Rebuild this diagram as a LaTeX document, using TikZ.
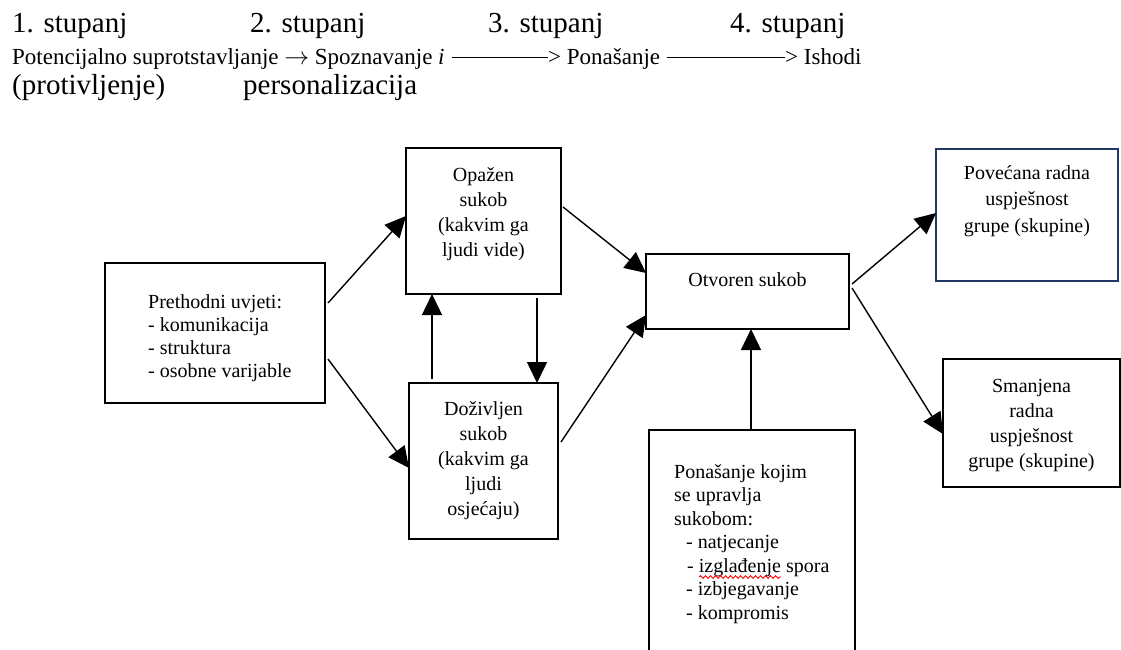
\documentclass[tikz,border=0pt]{standalone}
\usepackage{fontspec}
\setmainfont{Liberation Serif}
\usetikzlibrary{arrows.meta,decorations.pathmorphing}
\definecolor{navy}{RGB}{32,56,100}
\begin{document}
\begin{tikzpicture}[x=1pt,y=-1pt,
  box/.style={draw=black, line width=2.7pt, inner sep=0pt, outer sep=0pt},
  conn/.style={line width=1.4pt, -{Triangle[length=21pt,width=20pt]}},
  boxtxt/.style={inner sep=0pt, anchor=north, align=center},
  hbig/.style={inner sep=0pt, anchor=base west, font=\fontsize{29}{34}\selectfont},
  hsmall/.style={inner sep=0pt, anchor=base west, font=\fontsize{23}{27}\selectfont}]
\useasboundingbox[fill=white] (0,0) rectangle (1121,649);

% header
\node[hbig] (s1) at (12,32) {1. stupanj};
\node[hbig] (s2) at (250,32) {2. stupanj};
\node[hbig] (s3) at (488,32) {3. stupanj};
\node[hbig] (s4) at (730,32) {4. stupanj};
\node[hsmall] (h1) at (12,64) {Potencijalno suprotstavljanje {\fontsize{27}{27}\selectfont$\rightarrow$} Spoznavanje \textit{i}};
\node[hsmall] (h2) at (452,64) {\rule[6pt]{96pt}{1pt}> Ponašanje};
\node[hsmall] (h3) at (667,64) {\rule[6pt]{118pt}{1pt}> Ishodi};
\node[hbig] (p1) at (12,94) {(protivljenje)};
\node[hbig] (p2) at (243,94) {personalizacija};

% boxes
\node[box, minimum width=220pt, minimum height=140pt] (pre) at (215,333) {};
\node[box, minimum width=155pt, minimum height=146pt] (opa) at (483.5,221) {};
\node[box, minimum width=149pt, minimum height=156pt] (dozi) at (483.5,461) {};
\node[box, minimum width=203pt, minimum height=75pt] (otv) at (747.5,291.5) {};
\node[box, minimum width=206pt, minimum height=230pt] (pon) at (752,545) {};
\node[box, draw=navy, line width=2.2pt, minimum width=182pt, minimum height=132pt] (pov) at (1027,215) {};
\node[box, minimum width=177pt, minimum height=128pt] (sma) at (1031.5,423) {};

% texts
\node[inner sep=0pt, anchor=north west, align=left, font=\fontsize{20}{23}\selectfont] (pret) at (148,292)
  {\rule{0pt}{16pt}Prethodni uvjeti:\\- komunikacija\\- struktura\\- osobne varijable};
\node[boxtxt, font=\fontsize{20}{25}\selectfont] (opat) at (483.5,165)
  {\rule{0pt}{16pt}Opažen\\sukob\\(kakvim ga\\ljudi vide)};
\node[boxtxt, font=\fontsize{20}{25}\selectfont] (dozit) at (483.5,399)
  {\rule{0pt}{16pt}Doživljen\\sukob\\(kakvim ga\\ljudi\\osjećaju)};
\node[inner sep=0pt, anchor=base, font=\fontsize{20}{25}\selectfont] (otvt) at (747.5,286) {Otvoren sukob};
\node[boxtxt, font=\fontsize{20}{26.5}\selectfont] (povt) at (1027,163)
  {\rule{0pt}{16pt}Povećana radna\\uspješnost\\grupe (skupine)};
\node[boxtxt, font=\fontsize{20}{25}\selectfont] (smat) at (1031.5,376)
  {\rule{0pt}{16pt}Smanjena\\radna\\uspješnost\\grupe (skupine)};
\node[inner sep=0pt, anchor=north west, align=left, font=\fontsize{20}{23.5}\selectfont] (pont) at (674,462)
  {\rule{0pt}{16pt}Ponašanje kojim\\se upravlja\\sukobom:\\\hspace*{12pt}- natjecanje\\\hspace*{13pt}- izglađenje spora\\\hspace*{12pt}- izbjegavanje\\\hspace*{12pt}- kompromis};
\draw[red, line width=0.9pt, decorate, decoration={snake, amplitude=1.3pt, segment length=5pt}] (699,577) -- (781,577);

% connectors
\draw[conn] ([xshift=3pt,yshift=30pt]pre.east) -- ([yshift=5pt]opa.west);
\draw[conn] ([xshift=3pt,yshift=-26pt]pre.east) -- ([yshift=-7pt]dozi.west);
\draw[conn] ([xshift=-51.5pt,yshift=4pt]dozi.north) -- ([xshift=-51.5pt]opa.south);
\draw[conn] ([xshift=53.5pt,yshift=-4pt]opa.south) -- ([xshift=53.5pt]dozi.north);
\draw[conn] ([xshift=2pt,yshift=14pt]opa.east) -- ([yshift=18.5pt]otv.west);
\draw[conn] ([xshift=3pt,yshift=19pt]dozi.east) -- ([yshift=-23.5pt]otv.west);
\draw[conn] ([xshift=-1pt]pon.north) -- ([xshift=3.5pt]otv.south);
\draw[conn] ([xshift=3pt,yshift=7.5pt]otv.east) -- ([yshift=2pt]pov.west);
\draw[conn] ([xshift=3pt,yshift=3.5pt]otv.east) -- ([yshift=-11pt]sma.west);
\end{tikzpicture}
\end{document}
